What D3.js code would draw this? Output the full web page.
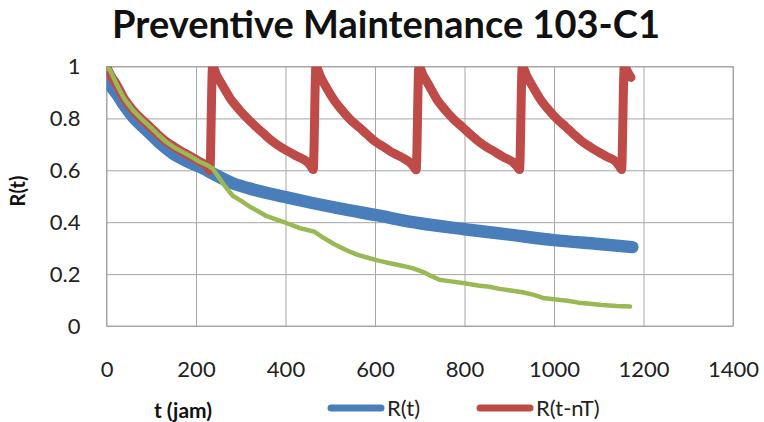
<!DOCTYPE html>
<html>
<head>
<meta charset="utf-8">
<script src="https://cdn.jsdelivr.net/npm/d3@7"></script>
<style>
    body { margin: 0; background: #ffffff; }
    svg { display: block; font-family: Lato, "Open Sans", sans-serif; }
</style>
</head>
<body>
<div id="chartDiv"></div>
<script>
"use strict";

// svg element parameters
var svgWidth = 764;
var svgHeight = 422;

var plotLeft = 106.5;
var plotRight = 733;
var plotTop = 66.5;
var plotBottom = 326;

// axis ticks
var xTicks = [0, 200, 400, 600, 800, 1000, 1200, 1400];
var yTicks = [0, 0.2, 0.4, 0.6, 0.8, 1];

// R(t)
var blueT = [0, 10, 23, 40, 59, 80, 97, 115, 133, 150, 171, 190, 208, 240, 282, 330, 400, 460, 520, 600, 700, 800, 900, 1000, 1100, 1175];
var blueR = [0.955, 0.925, 0.895, 0.85, 0.807, 0.77, 0.743, 0.712, 0.685, 0.663, 0.643, 0.627, 0.614, 0.585, 0.55, 0.525, 0.497, 0.474, 0.453, 0.428, 0.396, 0.373, 0.352, 0.331, 0.316, 0.304];

// R(t-nT)
var redT = [0, 10, 23, 40, 59, 80, 97, 115, 133, 152, 171, 190, 210, 225, 231,
            237, 247, 260, 277, 296, 317, 334, 352, 370, 389, 408, 427, 447, 456, 462,
            468, 478, 491, 508, 527, 548, 565, 583, 601, 620, 639, 658, 678, 686, 692,
            698, 708, 721, 738, 757, 778, 795, 813, 831, 850, 869, 888, 908, 917, 923,
            929, 939, 952, 969, 988, 1009, 1026, 1044, 1062, 1081, 1100, 1119, 1139, 1146, 1151,
            1157, 1166, 1172];
var redR = [1.0, 0.965, 0.93, 0.875, 0.832, 0.795, 0.768, 0.738, 0.712, 0.69, 0.67, 0.652, 0.632, 0.615, 0.60,
            1.0, 0.963, 0.925, 0.876, 0.835, 0.796, 0.768, 0.74, 0.713, 0.69, 0.671, 0.653, 0.634, 0.618, 0.603,
            1.0, 0.962, 0.92, 0.872, 0.83, 0.79, 0.765, 0.737, 0.71, 0.69, 0.668, 0.652, 0.63, 0.615, 0.602,
            1.0, 0.965, 0.926, 0.874, 0.832, 0.793, 0.767, 0.738, 0.712, 0.689, 0.67, 0.65, 0.632, 0.616, 0.603,
            1.0, 0.964, 0.924, 0.875, 0.833, 0.794, 0.768, 0.739, 0.712, 0.69, 0.67, 0.652, 0.632, 0.616, 0.603,
            1.0, 0.975, 0.958];

// third series (no legend entry)
var greenT = [0, 8, 23, 40, 59, 80, 97, 115, 133, 150, 171, 190, 208, 225, 237, 248, 260, 282, 300, 320, 340, 357, 380, 402, 432, 465,
              485, 506, 527, 543, 560, 580, 603, 625, 650, 684, 707, 725, 744, 770, 800, 830, 855, 878, 900, 930, 955, 975, 1000,
              1030, 1055, 1080, 1107, 1140, 1170];
var greenR = [1.0, 0.985, 0.93, 0.875, 0.832, 0.795, 0.768, 0.738, 0.71, 0.69, 0.67, 0.652, 0.633, 0.62, 0.607, 0.58, 0.55, 0.502, 0.483, 0.46, 0.441, 0.424, 0.41, 0.397, 0.377, 0.363,
              0.34, 0.318, 0.3, 0.287, 0.275, 0.265, 0.254, 0.245, 0.236, 0.223, 0.209, 0.193, 0.178, 0.172, 0.165, 0.156, 0.151, 0.143, 0.138, 0.13, 0.12, 0.108, 0.103,
              0.097, 0.09, 0.086, 0.081, 0.077, 0.075];

// legend entries (green series is not listed)
var legendNames = ["R(t)", "R(t-nT)"];
var legendColors = ["#4a7ebb", "#be4b48"];

var svg, x, y, plotClip;

svg = d3.select("#chartDiv").append("svg").attr("width", svgWidth).attr("height", svgHeight);

x = d3.scaleLinear().domain([0, 1400]).range([plotLeft, plotRight]);
y = d3.scaleLinear().domain([0, 1]).range([plotBottom, plotTop]);

drawGrid();
drawAxes();
drawSeries();
drawTexts();
drawLegend();

function drawGrid() {
    // vertical gridlines
    svg.append("g")
        .attr("transform", "translate(0," + plotBottom + ")")
        .call(d3.axisBottom(x).tickValues(xTicks).tickSize(-(plotBottom - plotTop)).tickFormat(""))
        .call(function (g) { g.select(".domain").remove(); })
        .selectAll("line").attr("stroke", "#a6a6a6");

    // horizontal gridlines
    svg.append("g")
        .attr("transform", "translate(" + plotLeft + ",0)")
        .call(d3.axisLeft(y).tickValues(yTicks).tickSize(-(plotRight - plotLeft)).tickFormat(""))
        .call(function (g) { g.select(".domain").remove(); })
        .selectAll("line").attr("stroke", "#a6a6a6");

    // plot border
    svg.append("rect")
        .attr("x", plotLeft).attr("y", plotTop)
        .attr("width", plotRight - plotLeft).attr("height", plotBottom - plotTop)
        .attr("fill", "none").attr("stroke", "#a6a6a6");
}

function drawAxes() {
    var xAxis = svg.append("g")
        .attr("transform", "translate(0," + plotBottom + ")")
        .call(d3.axisBottom(x).tickValues(xTicks).tickSize(0).tickPadding(35).tickFormat(d3.format("d")));
    xAxis.select(".domain").remove();
    xAxis.selectAll("text").attr("font-size", 22).attr("fill", "#222").attr("font-family", "Lato");

    var yAxis = svg.append("g")
        .attr("transform", "translate(" + plotLeft + ",0)")
        .call(d3.axisLeft(y).tickValues(yTicks).tickSize(0).tickPadding(26).tickFormat(function (d) { return String(d); }));
    yAxis.select(".domain").remove();
    yAxis.selectAll("text").attr("font-size", 22).attr("fill", "#222").attr("font-family", "Lato");
}

function drawSeries() {
    var line = d3.line()
        .x(function (d) { return x(d[0]); })
        .y(function (d) { return y(d[1]); });

    plotClip = svg.append("clipPath").attr("id", "plotClip")
        .append("rect")
        .attr("x", plotLeft).attr("y", plotTop)
        .attr("width", plotRight - plotLeft + 20).attr("height", plotBottom - plotTop);

    var g = svg.append("g").attr("clip-path", "url(#plotClip)");

    // blue R(t), thick
    g.append("path")
        .datum(d3.zip(blueT, blueR))
        .attr("d", line.curve(d3.curveMonotoneX))
        .attr("fill", "none").attr("stroke", "#4a7ebb")
        .attr("stroke-width", 12.5).attr("stroke-linecap", "round").attr("stroke-linejoin", "round");

    // red R(t-nT), sawtooth
    g.append("path")
        .datum(d3.zip(redT, redR))
        .attr("d", line.curve(d3.curveMonotoneX))
        .attr("fill", "none").attr("stroke", "#be4b48")
        .attr("stroke-width", 9).attr("stroke-linecap", "round").attr("stroke-linejoin", "round");

    // green, thin
    g.append("path")
        .datum(d3.zip(greenT, greenR))
        .attr("d", line.curve(d3.curveLinear))
        .attr("fill", "none").attr("stroke", "#98b954")
        .attr("stroke-width", 4.5).attr("stroke-linecap", "round").attr("stroke-linejoin", "round");
}

function drawTexts() {
    // title
    svg.append("text")
        .attr("x", 386).attr("y", 38)
        .attr("text-anchor", "middle")
        .attr("font-size", 38).attr("font-weight", "bold").attr("fill", "#111")
        .text("Preventive Maintenance 103-C1");

    // y axis title
    svg.append("text")
        .attr("transform", "translate(25,191) rotate(-90)")
        .attr("text-anchor", "middle")
        .attr("font-size", 20).attr("font-weight", "bold").attr("fill", "#111")
        .text("R(t)");

    // x axis title
    svg.append("text")
        .attr("x", 183).attr("y", 418)
        .attr("text-anchor", "middle")
        .attr("font-size", 21).attr("font-weight", "bold").attr("fill", "#111")
        .text("t (jam)");
}

function drawLegend() {
    var legendX = [331, 480];
    var legendY = 408;

    var items = svg.append("g").selectAll("g").data(legendNames).enter().append("g");

    items.append("line")
        .attr("x1", function (d, i) { return legendX[i]; })
        .attr("x2", function (d, i) { return legendX[i] + 50; })
        .attr("y1", legendY).attr("y2", legendY)
        .attr("stroke", function (d, i) { return legendColors[i]; })
        .attr("stroke-width", 7).attr("stroke-linecap", "round");

    items.append("text")
        .attr("x", function (d, i) { return legendX[i] + 56; })
        .attr("y", legendY + 8)
        .attr("font-size", 22).attr("fill", "#222")
        .text(function (d) { return d; });
}
</script>
</body>
</html>
